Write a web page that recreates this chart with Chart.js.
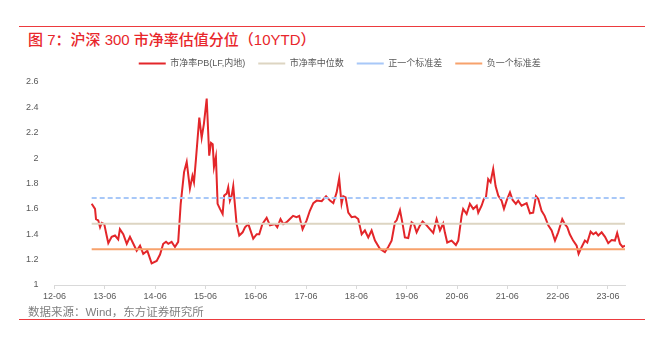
<!DOCTYPE html>
<html>
<head>
<meta charset="utf-8">
<script src="https://cdn.jsdelivr.net/npm/chart.js@4/dist/chart.umd.min.js"></script>
<style>
  html, body { margin: 0; padding: 0; background: #fff; }
  body { width: 651px; height: 352px; position: relative; overflow: hidden;
         font-family: "Liberation Sans", "Noto Sans CJK SC", sans-serif; }
  .rule { position: absolute; left: 19px; width: 626px; height: 1px; background: #ec3a3e; }
  #title { position: absolute; left: 28px; top: 28px; font-size: 15px; color: #e8262b;
           font-family: "Liberation Sans", "Noto Sans CJK SC", sans-serif; font-weight: 500; white-space: nowrap; }
  #source { position: absolute; left: 28px; top: 303px; font-size: 11.5px; color: #7f7f7f; white-space: nowrap; }
  #wrap { position: absolute; left: 0; top: 0; width: 651px; height: 352px; }
</style>
</head>
<body>
<div class="rule" style="top:26px"></div>
<div id="title">图 7：沪深 300 市净率估值分位（10YTD）</div>
<div id="wrap"><canvas id="pb"></canvas></div>
<div id="source">数据来源：Wind，东方证券研究所</div>
<div class="rule" style="top:319px"></div>
<script>
// weekly-ish samples
const dates = [
  '2013-02-27','2013-03-21','2013-03-28','2013-04-14','2013-04-27','2013-05-09','2013-05-27','2013-06-14','2013-06-26','2013-07-20','2013-08-14','2013-09-07','2013-09-19','2013-10-13','2013-11-08','2013-12-01','2013-12-25',
  '2014-01-19','2014-02-13','2014-03-06','2014-04-05','2014-05-06','2014-06-12','2014-07-06','2014-07-29','2014-08-19','2014-09-05','2014-09-29','2014-10-23','2014-11-16','2014-12-04','2014-12-28',
  '2015-01-17','2015-02-10','2015-02-28','2015-03-09','2015-03-23','2015-04-17','2015-05-04','2015-05-20','2015-06-10','2015-06-28','2015-07-11','2015-07-23','2015-08-02','2015-08-16','2015-08-28','2015-09-15','2015-10-04','2015-10-15','2015-11-03','2015-11-14','2015-11-26','2015-12-09','2015-12-20',
  '2016-01-14','2016-02-03','2016-02-27','2016-03-14','2016-04-08','2016-04-20','2016-05-13','2016-06-08','2016-06-26','2016-07-18','2016-08-19','2016-09-13','2016-10-19','2016-11-05','2016-11-28','2016-12-18',
  '2017-01-12','2017-02-05','2017-02-28','2017-03-23','2017-04-12','2017-05-06','2017-06-05','2017-06-28','2017-07-23','2017-08-17','2017-09-23','2017-10-24','2017-11-22','2017-12-16',
  '2018-01-10','2018-01-28','2018-02-15','2018-02-27','2018-03-14','2018-04-03','2018-04-27','2018-05-21','2018-06-14','2018-07-09','2018-08-02','2018-08-26','2018-09-20','2018-10-14','2018-11-19','2018-12-25',
  '2019-01-19','2019-02-13','2019-03-07','2019-03-19','2019-04-13','2019-05-02','2019-05-18','2019-06-12','2019-07-06','2019-07-23','2019-08-12','2019-09-06','2019-09-25','2019-10-24','2019-11-17','2019-12-11',
  '2020-01-05','2020-01-29','2020-02-22','2020-03-04','2020-03-21','2020-04-22','2020-05-23','2020-06-10','2020-07-04','2020-07-15','2020-08-10','2020-09-03','2020-09-27','2020-10-22','2020-11-03','2020-11-27','2020-12-14','2020-12-28',
  '2021-01-14','2021-02-01','2021-02-20','2021-03-07','2021-03-26','2021-04-20','2021-05-07','2021-05-26','2021-06-20','2021-07-09','2021-08-02','2021-08-19','2021-09-13','2021-10-19','2021-11-13','2021-12-06','2021-12-26',
  '2022-01-12','2022-02-06','2022-02-28','2022-03-24','2022-04-18','2022-05-12','2022-06-05','2022-07-04','2022-07-23','2022-08-10','2022-08-28','2022-09-22','2022-10-17','2022-11-01','2022-11-23','2022-12-16',
  '2023-01-03','2023-01-27','2023-02-16','2023-03-05','2023-03-22','2023-04-16','2023-05-10','2023-06-03','2023-06-27','2023-07-21','2023-08-07','2023-08-27','2023-09-16','2023-10-03'
];

const pbValues = [
  1.64,1.60,1.52,1.51,1.455,1.49,1.48,1.39,1.33,1.38,1.39,1.36,1.44,1.40,1.325,1.38,1.325,
  1.27,1.31,1.245,1.27,1.17,1.19,1.24,1.325,1.34,1.325,1.34,1.30,1.34,1.64,1.89,
  1.97,1.76,1.86,1.81,1.99,2.32,2.16,2.27,2.47,2.02,2.12,2.11,1.93,2.01,1.64,1.60,1.56,1.705,1.72,1.77,1.665,1.705,1.78,
  1.48,1.39,1.415,1.455,1.48,1.44,1.365,1.40,1.40,1.48,1.53,1.47,1.48,1.455,1.52,1.48,
  1.495,1.52,1.545,1.535,1.545,1.44,1.51,1.585,1.645,1.665,1.66,1.70,1.665,1.645,
  1.73,1.84,1.64,1.70,1.69,1.57,1.535,1.54,1.52,1.40,1.43,1.375,1.43,1.35,1.285,1.26,
  1.30,1.35,1.495,1.51,1.59,1.48,1.375,1.37,1.495,1.48,1.415,1.47,1.50,1.47,1.44,1.41,
  1.52,1.43,1.485,1.415,1.335,1.35,1.315,1.35,1.545,1.60,1.56,1.64,1.60,1.625,1.57,1.625,1.68,1.69,
  1.835,1.81,1.915,1.78,1.705,1.665,1.60,1.665,1.73,1.67,1.64,1.665,1.625,1.645,1.565,1.57,1.70,
  1.68,1.585,1.545,1.47,1.43,1.35,1.415,1.52,1.48,1.455,1.40,1.35,1.31,1.245,1.30,1.35,
  1.335,1.42,1.40,1.415,1.39,1.415,1.38,1.33,1.355,1.35,1.41,1.325,1.30,1.31
];

const medianPB = 1.482;
const plusOneSd = 1.685;
const minusOneSd = 1.282;

const seriesNames = ['市净率PB(LF,内地)', '市净率中位数', '正一个标准差', '负一个标准差'];
const tickLabels = ['12-06','13-06','14-06','15-06','16-06','17-06','18-06','19-06','20-06','21-06','22-06','23-06'];
const yTicks = [1, 1.2, 1.4, 1.6, 1.8, 2, 2.2, 2.4, 2.6];

// months since Jan 2012
function toMonths(s) {
  const [y, m, d] = s.split('-').map(Number);
  return (y - 2012) * 12 + (m - 1) + (d - 1) / 30;
}
function tickToMonths(lbl) {
  const [yy, mm] = lbl.split('-').map(Number);
  return (yy - 12) * 12 + (mm - 1);
}

const xs = dates.map(toMonths);
const pbData = xs.map((x, i) => ({ x: x, y: pbValues[i] }));
const flat = v => xs.map(x => ({ x: x, y: v }));

const FONT = '"Liberation Sans", "Noto Sans CJK SC", sans-serif';

// give the legend a little more room below it
const legendGap = {
  id: 'legendGap',
  beforeInit(chart) {
    const fit = chart.legend.fit;
    chart.legend.fit = function () {
      fit.bind(chart.legend)();
      this.height += 4;
    };
  }
};

new Chart(document.getElementById('pb'), {
  type: 'line',
  data: {
    datasets: [
      { label: seriesNames[0], data: pbData, borderColor: '#e3262a', backgroundColor: '#e3262a', borderWidth: 2 },
      { label: seriesNames[1], data: flat(medianPB), borderColor: '#ddd5c2', backgroundColor: '#ddd5c2', borderWidth: 2 },
      { label: seriesNames[2], data: flat(plusOneSd), borderColor: '#a8c8f8', backgroundColor: '#a8c8f8', borderWidth: 2, borderDash: [5, 3] },
      { label: seriesNames[3], data: flat(minusOneSd), borderColor: '#f7a26c', backgroundColor: '#f7a26c', borderWidth: 2 }
    ].reverse()
  },
  plugins: [legendGap],
  options: {
    responsive: true,
    maintainAspectRatio: false,
    animation: false,
    elements: { point: { radius: 0 }, line: { tension: 0 } },
    layout: { padding: { left: 20, right: 26, top: 46, bottom: 47 } },
    plugins: {
      tooltip: { enabled: false },
      legend: {
        fullSize: false,
        reverse: true,
        labels: {
          usePointStyle: true,
          pointStyle: 'line',
          pointStyleWidth: 27,
          boxHeight: 9,
          padding: 13,
          color: '#595959',
          font: { family: FONT, size: 9 }
        }
      }
    },
    scales: {
      x: {
        type: 'linear',
        min: tickToMonths(tickLabels[0]),
        max: xs[xs.length - 1],
        afterBuildTicks: axis => { axis.ticks = tickLabels.map(l => ({ value: tickToMonths(l) })); },
        afterFit: s => { s.height = 20; },
        grid: { display: true, drawOnChartArea: false, drawTicks: true, tickLength: 4, color: '#d9d9d9' },
        border: { display: true, color: '#d9d9d9', width: 1 },
        ticks: {
          autoSkip: false, maxRotation: 0, padding: 2,
          color: '#595959', font: { family: FONT, size: 9 },
          callback: (v, i) => tickLabels[i]
        }
      },
      y: {
        min: yTicks[0],
        max: yTicks[yTicks.length - 1],
        afterBuildTicks: axis => { axis.ticks = yTicks.map(v => ({ value: v })); },
        afterFit: s => { s.width = 34.5; },
        grid: { display: false },
        border: { display: false },
        ticks: {
          padding: 8,
          color: '#595959', font: { family: FONT, size: 9 },
          callback: v => String(v)
        }
      }
    }
  }
});
</script>
</body>
</html>
